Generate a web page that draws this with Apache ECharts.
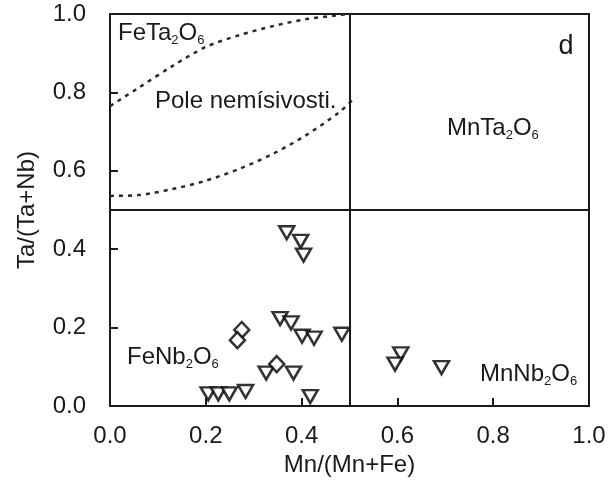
<!DOCTYPE html>
<html><head><meta charset="utf-8">
<script src="https://cdn.jsdelivr.net/npm/echarts@6/dist/echarts.min.js"></script>
<style>html,body{margin:0;padding:0;background:#fff}#c{width:614px;height:482px}</style>
</head><body><div id="c"></div>
<script>
// Triangles (down-pointing)
const triX = [0.369,0.398,0.404,0.355,0.378,0.401,0.426,0.484,0.326,0.383,0.205,0.226,0.249,0.283,0.418,0.607,0.595,0.692];
const triY = [0.442,0.420,0.385,0.223,0.212,0.178,0.173,0.183,0.084,0.084,0.031,0.031,0.031,0.037,0.024,0.133,0.107,0.098];
// Diamonds
const diaX = [0.275,0.266,0.348];
const diaY = [0.194,0.168,0.107];
// Dotted boundary curves (miscibility gap)
const upperX = [0,0.06,0.13,0.2,0.27,0.34,0.41,0.477,0.49];
const upperY = [0.765,0.812,0.867,0.916,0.946,0.969,0.987,0.997,0.999];
const lowerX = [0,0.059,0.129,0.198,0.268,0.338,0.407,0.477,0.51];
const lowerY = [0.536,0.538,0.553,0.574,0.604,0.642,0.689,0.748,0.785];
const divider = 0.5;
const xTicks = ['0.0','0.2','0.4','0.6','0.8','1.0'];
const yTicks = ['0.0','0.2','0.4','0.6','0.8','1.0'];

const FONT = "'Liberation Sans', Arial, sans-serif";
const INK = '#1a1a1a';
const zip = (a,b) => a.map((v,i)=>[v,b[i]]);
const rich = {
  a:{fontSize:24,fontFamily:FONT,color:INK},
  s:{fontSize:13,fontFamily:FONT,color:INK,padding:[14,0,0,0]}
};
function chem(x,y,parts){
  return {type:'text', x:x, y:y, silent:true,
    style:{text:parts, rich:rich, verticalAlign:'middle', align:'left', fill:INK}};
}
const chart = echarts.init(document.getElementById('c'), null, {renderer:'canvas'});
const axisCommon = {
  min:0, max:1, interval:0.2,
  axisLine:{show:true, lineStyle:{color:INK, width:2}},
  axisTick:{show:true, inside:true, length:8, lineStyle:{color:INK, width:2}},
  splitLine:{show:false},
  nameLocation:'middle',
  nameTextStyle:{fontSize:24, fontFamily:FONT, color:INK},
};
chart.setOption({
  animation:false,
  backgroundColor:'#fff',
  grid:{left:110, right:25, top:14, bottom:74, show:true, borderColor:INK, borderWidth:2, containLabel:false},
  xAxis:Object.assign({}, axisCommon, {
    type:'value', name:'Mn/(Mn+Fe)', nameGap:47,
    axisLabel:{fontSize:24, fontFamily:FONT, color:INK, margin:18, formatter:(v)=>xTicks[Math.round(v*5)]}
  }),
  yAxis:Object.assign({}, axisCommon, {
    type:'value', name:'Ta/(Ta+Nb)', nameGap:71, nameRotate:90,
    axisLabel:{fontSize:24, fontFamily:FONT, color:INK, margin:24, formatter:(v)=>yTicks[Math.round(v*5)]}
  }),
  series:[
    {type:'line', data:zip(upperX,upperY), smooth:0.3, symbol:'none', silent:true,
     lineStyle:{color:'#2a2a2a', width:2.5, type:[4,5]}, z:2},
    {type:'line', data:zip(lowerX,lowerY), smooth:0.3, symbol:'none', silent:true,
     lineStyle:{color:'#2a2a2a', width:2.5, type:[4,5]}, z:2,
     markLine:{silent:true, symbol:'none', label:{show:false},
       lineStyle:{color:INK, width:2, type:'solid'},
       data:[{xAxis:divider},{yAxis:divider}]}},
    {type:'scatter', data:zip(triX,triY), symbol:'triangle', symbolRotate:180, symbolSize:[15,13],
     itemStyle:{color:'#fff', borderColor:'#000', borderWidth:2.5}, z:3},
    {type:'scatter', data:zip(diaX,diaY), symbol:'diamond', symbolSize:[15,16],
     itemStyle:{color:'#fff', borderColor:'#000', borderWidth:2.5}, z:4}
  ],
  graphic:[
    chem(118,33,'{a|FeTa}{s|2}{a|O}{s|6}'),
    {type:'text', x:155, y:101, silent:true, style:{text:'Pole nemísivosti.', fontSize:24, fontFamily:FONT, fill:INK, verticalAlign:'middle'}},
    chem(447,128,'{a|MnTa}{s|2}{a|O}{s|6}'),
    chem(127,357,'{a|FeNb}{s|2}{a|O}{s|6}'),
    chem(480,374,'{a|MnNb}{s|2}{a|O}{s|6}'),
    {type:'text', x:566, y:47, silent:true, style:{text:'d', fontSize:27, fontFamily:FONT, fill:INK, verticalAlign:'middle', align:'center'}}
  ]
});
</script></body></html>
